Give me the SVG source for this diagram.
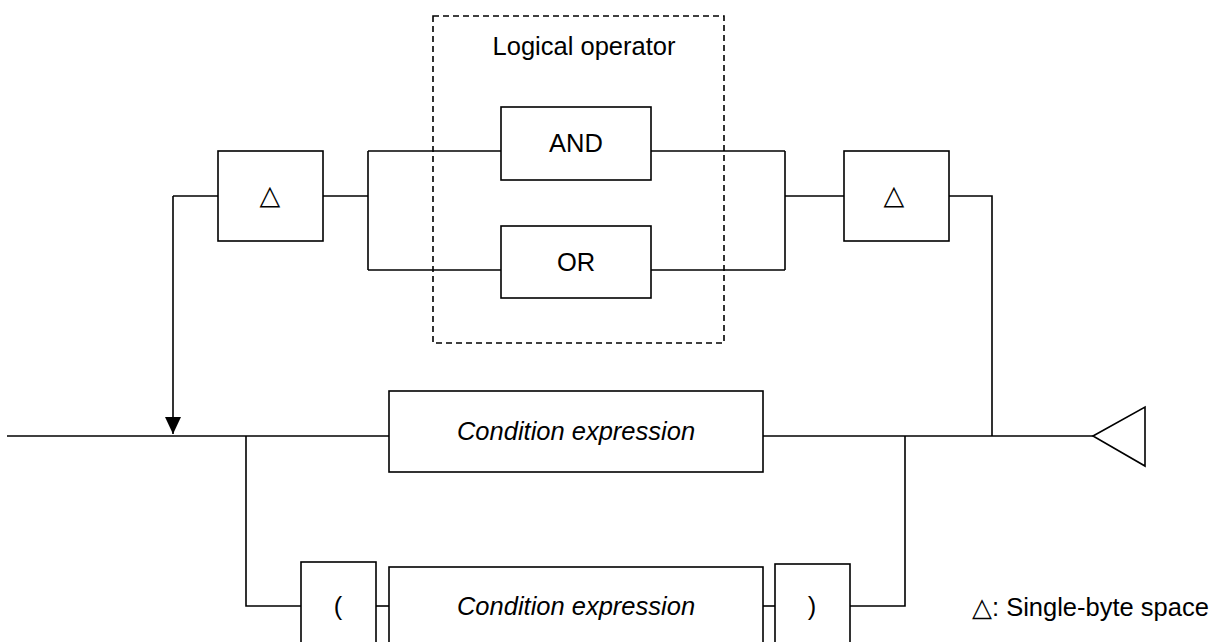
<svg xmlns="http://www.w3.org/2000/svg" width="1225" height="642" viewBox="0 0 1225 642">
<style>
.box{fill:#fff;stroke:#000;stroke-width:1.6}
.ln{fill:none;stroke:#000;stroke-width:1.6}
.t{font-family:"Liberation Sans",Arial,sans-serif;font-size:25.5px;fill:#000;text-anchor:middle;dominant-baseline:central}
.i{font-style:italic}
.sym{font-family:"DejaVu Sans","Noto Sans CJK JP",sans-serif;font-size:27px;fill:#000;text-anchor:middle;dominant-baseline:central}
</style>
<defs>
<marker id="arr" markerWidth="16" markerHeight="17" refX="8" refY="17" orient="0" markerUnits="userSpaceOnUse" viewBox="0 0 16 17">
<path d="M0,0 L16,0 L8,17 Z" fill="#000"/>
</marker>
</defs>
<rect width="1225" height="642" fill="#fff"/>
<g id="logical-operator-group">
<rect x="433" y="16" width="291" height="327" fill="none" stroke="#000" stroke-width="1.6" stroke-dasharray="6,4"/>
<text class="t" x="584" y="46">Logical operator</text>
</g>
<g id="connectors">
<path class="ln" d="M7,436 H389"/>
<path class="ln" d="M763,436 H1093"/>
<path class="ln" d="M173,196 V434" marker-end="url(#arr)"/>
<path class="ln" d="M173,196 H218"/>
<path class="ln" d="M323,196 H368"/>
<path class="ln" d="M368,151 V270"/>
<path class="ln" d="M368,151 H501"/>
<path class="ln" d="M368,270 H501"/>
<path class="ln" d="M651,151 H785"/>
<path class="ln" d="M651,270 H785"/>
<path class="ln" d="M785,151 V270"/>
<path class="ln" d="M785,196 H844"/>
<path class="ln" d="M949,196 H992 V436"/>
<path class="ln" d="M246,436 V606 H301"/>
<path class="ln" d="M376,606 H389"/>
<path class="ln" d="M763,606 H775"/>
<path class="ln" d="M850,606 H905 V436"/>
</g>
<g id="space-left">
<rect class="box" x="218" y="151" width="105" height="90"/>
<text class="sym" x="270" y="194">△</text>
</g>
<g id="and">
<rect class="box" x="501" y="107" width="150" height="73"/>
<text class="t" x="576" y="143">AND</text>
</g>
<g id="or">
<rect class="box" x="501" y="226" width="150" height="72"/>
<text class="t" x="576" y="262">OR</text>
</g>
<g id="space-right">
<rect class="box" x="844" y="151" width="105" height="90"/>
<text class="sym" x="894" y="194">△</text>
</g>
<g id="condition-top">
<rect class="box" x="389" y="391" width="374" height="81"/>
<text class="t i" x="576" y="431">Condition  expression</text>
</g>
<g id="paren-open">
<rect class="box" x="301" y="562" width="75" height="90"/>
<text class="t" x="338" y="606">(</text>
</g>
<g id="condition-bottom">
<rect class="box" x="389" y="567" width="374" height="81"/>
<text class="t i" x="576" y="606">Condition  expression</text>
</g>
<g id="paren-close">
<rect class="box" x="775" y="564" width="75" height="90"/>
<text class="t" x="812" y="606">)</text>
</g>
<g id="end">
<polygon points="1093,436 1145,407 1145,466" fill="#fff" stroke="#000" stroke-width="1.6"/>
</g>
<g id="legend">
<text x="972" y="607" font-family="'DejaVu Sans','Noto Sans CJK JP',sans-serif" font-size="26" dominant-baseline="central">△<tspan font-family="'Liberation Sans',Arial,sans-serif" font-size="25.5">: Single-byte  space</tspan></text>
</g>
</svg>
